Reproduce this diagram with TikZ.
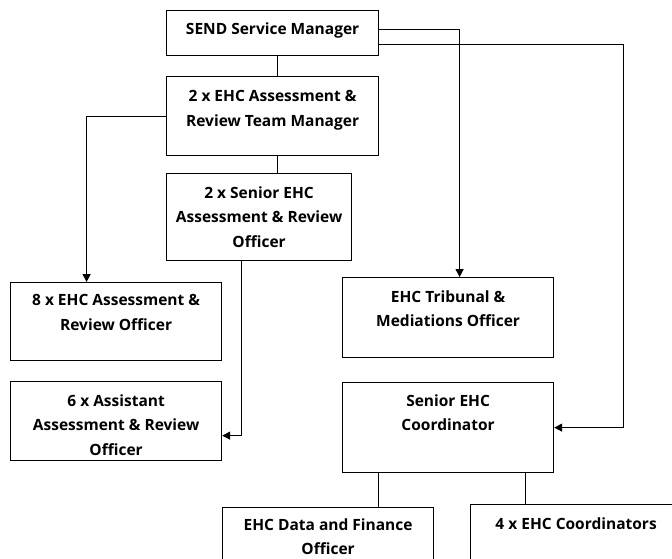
\documentclass[tikz,border=0pt]{standalone}
\usepackage{fontspec}
\setmainfont{Open Sans}
\usetikzlibrary{arrows.meta,positioning}
\tikzset{
  box/.style={draw, line width=1.2pt, minimum width=211pt, inner sep=0pt, anchor=north west},
  txt/.style={align=center, inner sep=0pt, anchor=north, font=\bfseries\fontsize{15.5}{24.5}\selectfont},
  link/.style={line width=1.2pt},
  tip/.style={line width=1.2pt, -{Triangle[length=8pt,width=8pt]}}
}
\begin{document}
\begin{tikzpicture}[x=1pt,y=-1pt]
	\clip (0,0) rectangle (672,558);
	\fill[white] (0,0) rectangle (672,558);
	% boxes
	\node[box, minimum width=212pt, minimum height=45pt] (send) at (166,10) {};
	\node[box, minimum width=212pt, minimum height=79pt] (tm) at (166,76) {};
	\node[box, minimum width=185pt, minimum height=87pt] (sr) at (166,173) {};
	\node[box, minimum height=78pt] (ehc8) at (10,282) {};
	\node[box, minimum height=79pt] (asst6) at (10,381) {};
	\node[box, minimum height=80pt] (trib) at (342,277) {};
	\node[box, minimum height=90pt] (coord) at (342,382) {};
	\node[box, minimum height=70pt] (data) at (222,507) {};
	\node[box, minimum height=70pt] (coords4) at (470,504) {};
	% texts
	\node[txt] (sendtxt) at ([yshift=-12.5pt]send.north) {SEND Service Manager};
	\node[txt] (tmtxt) at ([yshift=-14.5pt]tm.north) {2 x EHC Assessment \&\\Review Team Manager};
	\node[txt] (srtxt) at ([yshift=-13.5pt]sr.north) {2 x Senior EHC\\Assessment \& Review\\Officer};
	\node[txt] (ehc8txt) at ([yshift=-12.5pt]ehc8.north) {8 x EHC Assessment \&\\Review Officer};
	\node[txt] (asst6txt) at ([yshift=-13.5pt]asst6.north) {6 x Assistant\\Assessment \& Review\\Officer};
	\node[txt] (tribtxt) at ([yshift=-13.5pt]trib.north) {EHC Tribunal \&\\Mediations Officer};
	\node[txt] (coordtxt) at ([yshift=-12.5pt]coord.north) {Senior EHC\\Coordinator};
	\node[txt] (datatxt) at ([yshift=-11.5pt]data.north) {EHC Data and Finance\\Officer};
	\node[txt] (coords4txt) at ([yshift=-13.5pt]coords4.north) {4 x EHC Coordinators};
	% connectors
	\coordinate (rt) at (623.5,0);
	\draw[link] ([xshift=5pt]send.south) -- ([xshift=5pt]tm.north);
	\draw[link] ([xshift=5pt]tm.south) -- ([xshift=5pt]tm.south |- sr.north);
	\draw[tip] (tm.west) -| ([xshift=-29.5pt]ehc8.north);
	\draw[tip] ([xshift=-17.5pt]sr.south) |- ([yshift=-14.5pt]asst6.east);
	\draw[tip] ([yshift=3.5pt]send.east) -| ([xshift=11.5pt]trib.north);
	\draw[tip] ([yshift=-11.5pt]send.east) -| (rt |- coord.east) -- (coord.east);
	\draw[link] ([xshift=-69.5pt]coord.south) -- ([xshift=-69.5pt]coord.south |- data.north);
	\draw[link] ([xshift=77.5pt]coord.south) -- ([xshift=77.5pt]coord.south |- coords4.north);
\end{tikzpicture}
\end{document}
